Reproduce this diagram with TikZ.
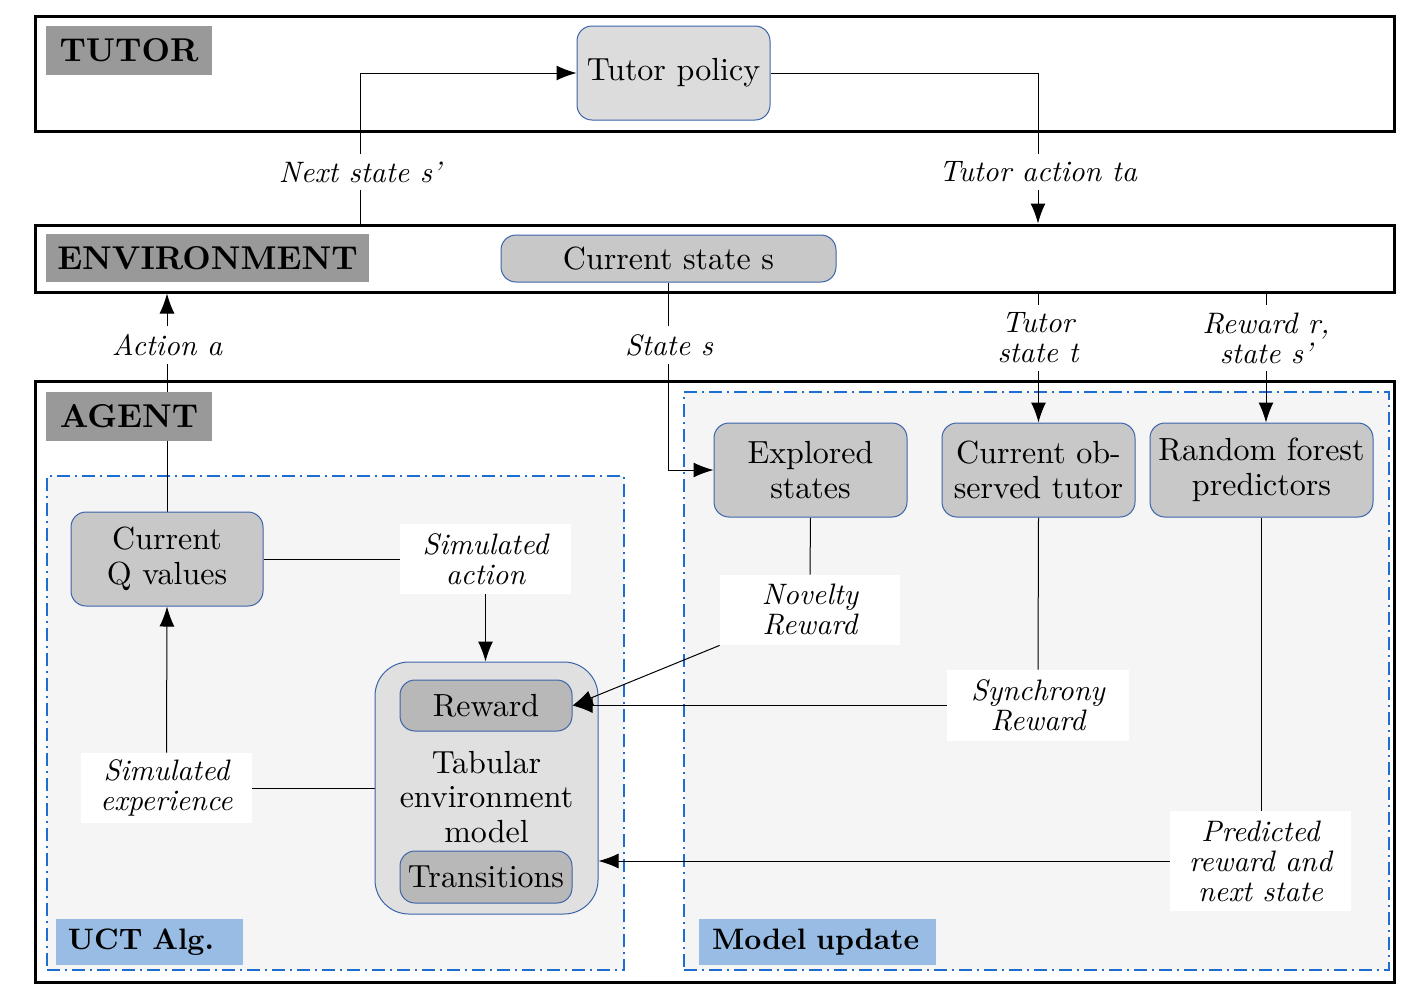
\documentclass[tikz,border=0pt]{standalone}
\usepackage{fontspec}
\setmainfont{lmroman10-regular.otf}[BoldFont=lmroman10-bold.otf, ItalicFont=lmroman10-italic.otf, BoldItalicFont=lmroman10-bolditalic.otf]
\usetikzlibrary{arrows.meta}
\definecolor{lblgray}{RGB}{153,153,153}
\definecolor{nodegray}{RGB}{200,200,200}
\definecolor{polgray}{RGB}{220,220,220}
\definecolor{tabgray}{RGB}{224,224,224}
\definecolor{subgray}{RGB}{184,184,184}
\definecolor{regfill}{RGB}{245,245,245}
\definecolor{dashblue}{RGB}{30,110,210}
\definecolor{edgeblue}{RGB}{60,100,170}
\definecolor{tagblue}{RGB}{152,188,228}
\pgfdeclarelayer{back}
\pgfdeclarelayer{mid}
\pgfsetlayers{back,mid,main}
\begin{document}
\begin{tikzpicture}[x=0.5pt,y=-0.5pt,
  frame/.style={draw, line width=1.5pt, minimum width=679.5pt, inner sep=0pt},
  region/.style={draw=dashblue, line width=1pt, fill=regfill, dash pattern=on 6.5pt off 2.5pt on 1pt off 2.5pt, inner sep=0pt},
  title/.style={fill=lblgray, font=\fontsize{16.5}{18}\selectfont\bfseries, inner sep=0pt},
  tag/.style={fill=tagblue, font=\fontsize{14.8}{16}\selectfont\bfseries, align=left, inner ysep=0pt, minimum height=23pt},
  box/.style={draw=edgeblue, line width=0.5pt, fill=nodegray, rounded corners=7.5pt, align=center, inner sep=0pt, font=\fontsize{16}{17.2}\selectfont},
  lbl/.style={fill=white, font=\fontsize{14.8}{15}\selectfont\itshape, align=center, inner sep=4pt},
  wlbl/.style={fill=white, font=\fontsize{14.8}{15}\selectfont\itshape, align=center, inner sep=0pt},
  arr/.style={-{Latex[length=10pt,width=7.5pt]}, line width=0.5pt},
  ln/.style={line width=0.5pt}]
\useasboundingbox (0,0) rectangle (1403,992);

\begin{pgfonlayer}{back}
\node[frame, minimum height=57.5pt] (tutorbox) at (714.5,73.5) {};
\node[frame, minimum height=33.5pt] (envbox) at (714.5,258.5) {};
\node[frame, minimum height=300.5pt] (agentbox) at (714.5,681.5) {};
\node[region, minimum width=288.5pt, minimum height=247pt] (uct) at (335.5,723) {};
\node[region, minimum width=352.5pt, minimum height=289pt] (model) at (1036.5,681) {};
\end{pgfonlayer}

% boxes
\node[box, fill=polgray, minimum width=96.5pt, minimum height=47pt] (policy) at (673.5,73) {Tutor policy};
\node[box, minimum width=167.5pt, minimum height=23.5pt] (cstate) at (668.5,258.5) {Current state s};
\node[box, minimum width=96pt, minimum height=47pt] (qvals) at (167,559) {Current\\Q values};
\node[box, minimum width=96.5pt, minimum height=47pt] (explored) at (810.5,470) {Explored\\states};
\node[box, minimum width=96.5pt, minimum height=47pt] (observed) at (1038.5,470) {Current ob-\\served tutor};
\node[box, minimum width=111.5pt, minimum height=47pt] (forest) at (1261.5,470) {Random forest\\predictors};
\node[box, fill=tabgray, rounded corners=17pt, minimum width=111.5pt, minimum height=126pt] (tabular) at (486.5,788) {\rule{0pt}{20pt}Tabular\\environment\\model};
\node[box, fill=subgray, minimum width=86pt, minimum height=25.5pt] (reward) at (486,705.5) {Reward};
\node[box, fill=subgray, minimum width=86pt, minimum height=26pt] (trans) at (486,877) {Transitions};

% titles and tags
\node[title, minimum width=83pt, minimum height=24.5pt] (tutortitle) at (129,50.5) {TUTOR};
\node[title, minimum width=161.5pt, minimum height=24pt] (envtitle) at (207.5,258) {ENVIRONMENT};
\node[title, minimum width=83pt, minimum height=24.5pt] (agenttitle) at (129,416.5) {AGENT};
\node[tag, text width=81.5pt, inner xsep=6pt] (ucttag) at (149.5,942) {UCT Alg.};
\node[tag, text width=105.5pt, inner xsep=6.5pt] (modeltag) at (817.5,942) {Model update};

% labels
\node[lbl] (nextlbl) at (360,172) {Next state s’};
\node[lbl] (tactlbl) at (1038,172) {Tutor action ta};
\node[lbl] (actlbl) at (167,345) {Action a};
\node[lbl] (statelbl) at (669,345) {State s};
\node[lbl] (tstatelbl) at (1038,338) {Tutor\\state t};
\node[lbl] (rewlbl) at (1266,338) {Reward r,\\state s’};
\node[wlbl, minimum width=85.5pt, minimum height=35pt] (simact) at (485.5,559) {Simulated\\action};
\node[wlbl, minimum width=85.5pt, minimum height=35pt] (simexp) at (166.5,788) {Simulated\\experience};
\node[wlbl, minimum width=90pt, minimum height=35pt] (novelty) at (810,610) {Novelty\\Reward};
\node[wlbl, minimum width=91pt, minimum height=35.5pt] (synch) at (1038,705.5) {Synchrony\\Reward};
\node[wlbl, minimum width=90.5pt, minimum height=50pt] (predicted) at (1260.5,861) {Predicted\\reward and\\next state};

\begin{pgfonlayer}{mid}
\draw[arr] (envbox.north -| nextlbl) |- (policy.west);
\draw[arr] (policy.east) -| (envbox.north -| tactlbl);
\draw[arr] (qvals.north) -- (envbox.south -| qvals);
\draw[arr] (cstate.south) |- (explored.west);
\draw[arr] (envbox.south -| observed) -- (observed.north);
\draw[arr] (envbox.south -| rewlbl) -- (forest.north -| rewlbl);
\draw[ln] (qvals.east) -- (simact.west);
\draw[arr] (simact.south) -- (simact.south |- tabular.north);
\draw[arr] (simexp.north) -- (qvals.south);
\draw[ln] (tabular.west) -- (simexp.east);
\draw[ln] (explored.south) -- (novelty.north);
\draw[ln] (observed.south) -- (synch.north);
\draw[ln] (forest.south) -- (forest.south |- predicted.north);
\draw[arr] (predicted.west) -- (predicted.west -| tabular.east);
\end{pgfonlayer}
\draw[arr] (novelty.south west) -- (reward.east);
\draw[arr] (synch.west) -- (reward.east);
\end{tikzpicture}
\end{document}
